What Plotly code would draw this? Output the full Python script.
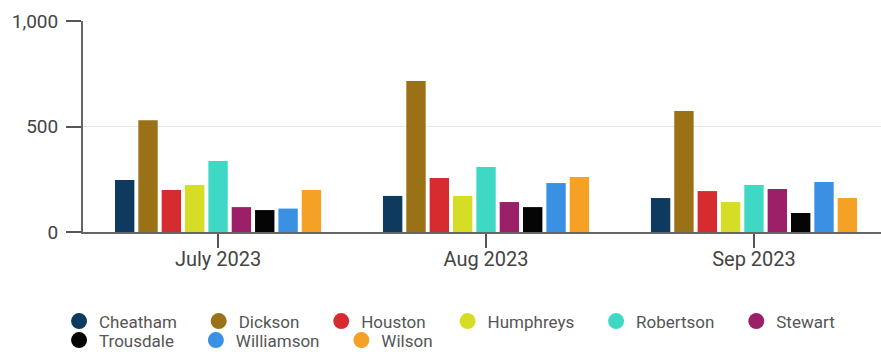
import plotly.graph_objects as go

months = ["July 2023", "Aug 2023", "Sep 2023"]
counties = ["Cheatham", "Dickson", "Houston", "Humphreys", "Robertson",
            "Stewart", "Trousdale", "Williamson", "Wilson"]
colors = ["#0f3a5f", "#9a7116", "#d62c2f", "#d6dd27", "#3fd8c4",
          "#9c2068", "#050505", "#3a90e2", "#f5a126"]
legend_row = ["legend", "legend", "legend", "legend", "legend",
              "legend", "legend2", "legend2", "legend2"]

cheatham = [246, 171, 161]
dickson = [530, 716, 573]
houston = [199, 256, 194]
humphreys = [223, 171, 142]
robertson = [336, 308, 223]
stewart = [118, 142, 204]
trousdale = [104, 118, 90]
williamson = [111, 232, 237]
wilson = [199, 261, 161]

series = [cheatham, dickson, houston, humphreys, robertson,
          stewart, trousdale, williamson, wilson]

y_ticks = [0, 500, 1000]
y_tick_text = ["0", "500", "1,000"]

fig = go.Figure()
for name, vals, col in zip(counties, series, colors):
    fig.add_trace(go.Bar(x=months, y=vals, name=name, marker_color=col,
                         marker_line_width=0, showlegend=False))
for name, col, lg in zip(counties, colors, legend_row):
    fig.add_trace(go.Scatter(x=[None], y=[None], mode="markers",
                             name=name + "\u00a0" * 4, legend=lg,
                             marker=dict(symbol="circle", size=16, color=col),
                             showlegend=True))

legend_font = dict(size=17, color="#555", family="Roboto")

fig.update_layout(
    width=881, height=352,
    margin=dict(l=83, r=0, t=21, b=120, autoexpand=False),
    paper_bgcolor="white", plot_bgcolor="white",
    barmode="group", bargap=0.216, bargroupgap=0.17,
    font=dict(family="Roboto", color="#444"),
    xaxis=dict(
        type="category", range=[-0.504, 2.474],
        showline=True, linecolor="#666", linewidth=2,
        ticks="outside", ticklen=14, tickcolor="#555", tickwidth=2,
        tickfont=dict(size=20, color="#444"), ticklabelstandoff=-6,
        showgrid=False, fixedrange=True,
    ),
    yaxis=dict(
        range=[0, 1000], tickvals=y_ticks, ticktext=y_tick_text,
        showline=True, linecolor="#666", linewidth=2,
        ticks="outside", ticklen=15, tickcolor="#555", tickwidth=2,
        tickfont=dict(size=19, color="#444"), ticklabelstandoff=4,
        showgrid=True, gridcolor="#e8e8e8", gridwidth=1,
        zeroline=False, fixedrange=True,
    ),
    legend=dict(
        orientation="h", x=-0.03, xanchor="left", y=-0.339, yanchor="top",
        font=legend_font, bgcolor="rgba(0,0,0,0)", traceorder="normal",
        itemclick=False, itemdoubleclick=False,
    ),
    legend2=dict(
        orientation="h", x=-0.03, xanchor="left", y=-0.429, yanchor="top",
        font=legend_font, bgcolor="rgba(0,0,0,0)", traceorder="normal",
        itemclick=False, itemdoubleclick=False,
    ),
)

fig.write_html("out.html")
